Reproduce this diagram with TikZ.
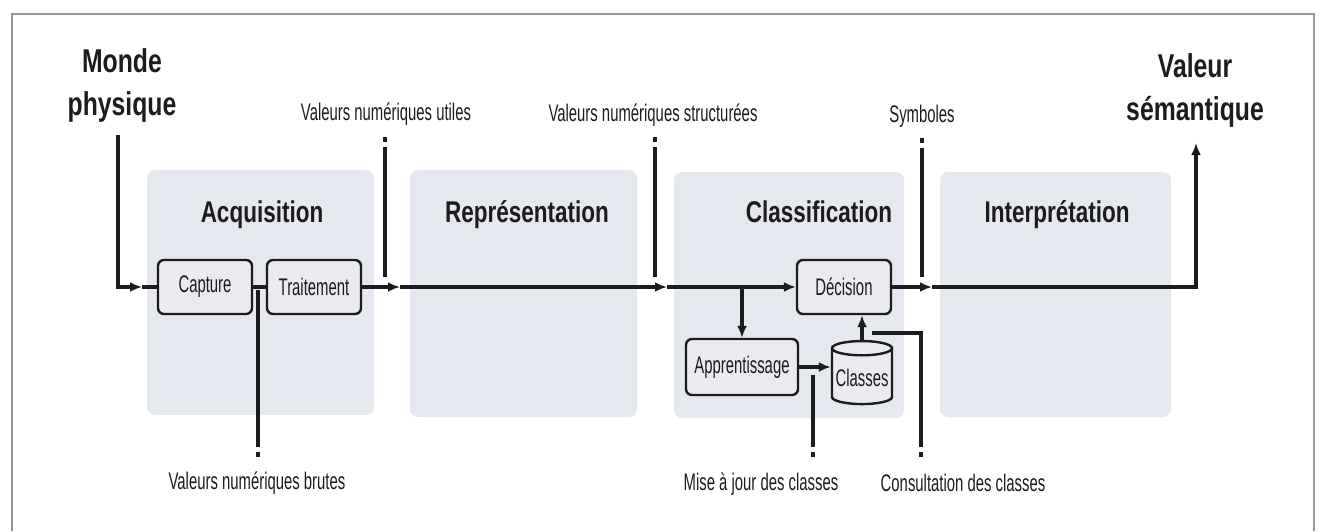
\documentclass[tikz,border=0pt]{standalone}
\usepackage{fontspec}
\setmainfont{Liberation Sans}
\newfontfamily\headfont{Liberation Sans}[FakeStretch=0.75]
\newfontfamily\labelfont{Liberation Sans}[FakeStretch=0.62]
\usetikzlibrary{shapes.geometric,arrows.meta}
\definecolor{panel_grey}{RGB}{230,232,239}
\definecolor{box_grey}{RGB}{234,235,240}
\definecolor{ink}{RGB}{28,28,32}
\definecolor{frame_grey}{RGB}{150,150,150}
\tikzstyle{panel}=[fill=panel_grey,rounded corners=4pt]
\tikzstyle{title}=[anchor=base,text=ink,
  font=\headfont\bfseries\fontsize{15}{17}\selectfont]
\tikzstyle{io}=[align=center,text=ink,
  font=\headfont\bfseries\fontsize{16.5}{21.5}\selectfont]
\tikzstyle{box}=[rectangle,rounded corners=3pt,fill=box_grey,draw=ink,
  line width=1.2pt,inner sep=1pt,minimum width=47pt,minimum height=27pt,
  text=ink,font=\labelfont\fontsize{12}{14}\selectfont]
\tikzstyle{db}=[cylinder,shape border rotate=90,aspect=0.25,fill=box_grey,
  draw=ink,line width=1.2pt,inner sep=1pt,minimum width=30pt,minimum height=31.5pt,
  text=ink,font=\labelfont\fontsize{12}{14}\selectfont]
\tikzstyle{lbl}=[anchor=base,text=ink,font=\labelfont\fontsize{12}{14}\selectfont]
\tikzstyle{wire}=[draw=ink,line width=1.8pt]
\tikzstyle{flow}=[draw=ink,line width=1.8pt,-{Latex[length=6pt,width=5pt]}]
\tikzstyle{tap}=[draw=ink,line width=1.8pt,dash pattern=on 2.5pt off 2.5pt on 400pt]

\begin{document}
\begin{tikzpicture}[x=0.5pt,y=-0.5pt]
    \useasboundingbox (0,0) rectangle (1322,531);
    \draw [frame_grey,line width=0.6pt] (12,531) -- (12,14) -- (1314,14) -- (1314,531);

    \fill [style=panel] (147,170) rectangle (374,415);
    \fill [style=panel] (410,170) rectangle (637,417);
    \fill [style=panel] (674,172) rectangle (904,418);
    \fill [style=panel] (940,172) rectangle (1171,417);
    \node [style=title] (acq) at (262,222) {Acquisition};
    \node [style=title] (rep) at (527,222) {Représentation};
    \node [style=title] (cla) at (819,222) {Classification};
    \node [style=title] (int) at (1057,222) {Interprétation};

    \node [style=io] (monde) at (122,85) {Monde\\physique};
    \node [style=io] (valeur) at (1195,90) {Valeur\\sémantique};

    \node [style=box] (capture) at (205,287) {Capture};
    \node [style=box] (traitement) at (314,287) {Traitement};
    \node [style=box] (decision) at (844,287) {Décision};
    \node [style=box,minimum width=56pt,minimum height=28pt] (appr) at (742,367) {Apprentissage};
    \node [style=db] (classes) at (862,378) {Classes};

    \coordinate (src) at (118,135);
    \coordinate (inA) at (142,287);
    \coordinate (inR) at (400,287);
    \coordinate (inC) at (667,287);
    \coordinate (inI) at (932,287);
    \coordinate (sink) at (1196,143);
    \draw [style=flow] (src) |- (inA);
    \draw [style=wire] (inA) -- (capture);
    \draw [style=wire] (capture) -- (traitement);
    \draw [style=flow] (traitement) -- (inR);
    \draw [style=flow] (inR) -- (inC);
    \draw [style=flow] (inC) -- (decision);
    \draw [style=flow] (decision) -- (inI);
    \draw [style=flow] (inI) -| (sink);
    \draw [style=flow] (appr.north |- inC) -- (appr.north);
    \draw [style=flow] (appr.east) -- (appr.east -| classes.west);
    \draw [style=flow] (classes.north) -- (classes.north |- decision.south);

    \node [style=lbl] (utiles) at (386,120) {Valeurs numériques utiles};
    \node [style=lbl] (struct) at (653,121) {Valeurs numériques structurées};
    \node [style=lbl] (symb) at (922,122) {Symboles};
    \node [style=lbl] (brutes) at (257,489) {Valeurs numériques brutes};
    \node [style=lbl] (maj) at (761,490) {Mise à jour des classes};
    \node [style=lbl] (consult) at (963,491) {Consultation des classes};

    \coordinate (tUtiles) at (385,137);
    \coordinate (tStruct) at (655,137);
    \coordinate (tSymb) at (922,138);
    \coordinate (tBrutes) at (258,457);
    \coordinate (tMaj) at (813,457);
    \coordinate (tConsult) at (921,457);
    \coordinate (consultEnd) at (872,333);
    \draw [style=tap,shorten >=5pt] (tUtiles) -- (tUtiles |- inR);
    \draw [style=tap,shorten >=5pt] (tStruct) -- (tStruct |- inC);
    \draw [style=tap,shorten >=5pt] (tSymb) -- (tSymb |- inI);
    \draw [style=tap,shorten >=1.5pt] (tBrutes) -- (tBrutes |- inA);
    \draw [style=tap,shorten >=4pt] (tMaj) -- (tMaj |- appr.east);
    \draw [style=tap] (tConsult) |- (consultEnd);
\end{tikzpicture}
\end{document}
